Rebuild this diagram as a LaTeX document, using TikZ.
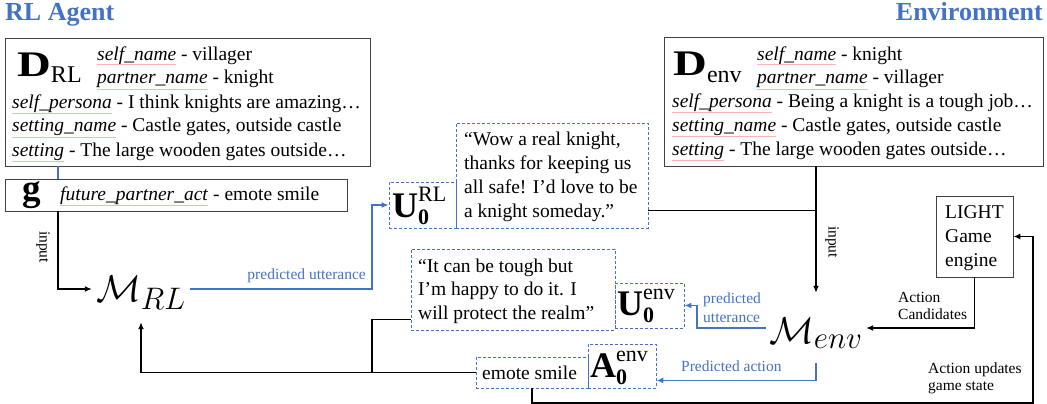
\documentclass[tikz,border=0pt]{standalone}
\usepackage{amsmath}
\usepackage{graphicx}
\usepackage{fontspec}
\setmainfont{Liberation Serif}
\usetikzlibrary{arrows.meta,calc}
\definecolor{myblue}{HTML}{4472C4}
\newlength\sqw
\newcommand\sq[1]{\settowidth\sqw{\textit{#1}}\textit{#1}\llap{\textcolor{red!30}{\rule[-5pt]{\sqw}{0.5pt}}}}
\newcommand\bigsym[3]{{\fontsize{36}{36}\selectfont\textbf{#1}}\raisebox{-7pt}{\fontsize{22}{20}\selectfont\begin{tabular}[b]{@{}l@{}}#2\\[2pt]\textbf{#3}\end{tabular}}}
\newcommand\bigmath[1]{\scalebox{1.5}{\Huge$#1$}}
\begin{document}
\begin{tikzpicture}[x=1pt,y=-1pt,
 box/.style={draw=black!75,line width=0.8pt,inner sep=0pt},
 dbox/.style={draw=myblue,line width=0.9pt,dash pattern=on 3pt off 2pt,inner sep=0pt},
 txt/.style={inner sep=0pt,anchor=base west,font=\fontsize{19.5}{24}\selectfont},
 lab/.style={inner sep=0pt,font=\fontsize{15.5}{17}\selectfont},
 ttl/.style={inner sep=0pt,font=\fontsize{26}{28}\selectfont\bfseries,text=myblue},
 kline/.style={draw=black,line width=1.3pt},
 bline/.style={draw=myblue,line width=1.3pt},
 arrowed/.style={-{Latex[length=7pt,width=6pt]}},
 mth/.style={inner sep=0pt}
]
\useasboundingbox (0,0) rectangle (1047,404);

% titles
\node[ttl,anchor=base west] (tRL) at (5,21) {RL Agent};
\node[ttl,anchor=base east] (tEnv) at (1043,21) {Environment};

% RL dialogue box
\node[box,minimum width=365pt,minimum height=128pt] (drl) at (187.5,102) {};
\node[txt] (drlD) at (17,77) {\fontsize{36}{36}\selectfont\scalebox{1.3}[1]{\textbf{D}}\raisebox{-6pt}{\fontsize{24}{24}\selectfont RL}};
\node[txt] (drlA) at (97,60) {\begin{tabular}[t]{@{}l@{}}\sq{self\_name} - villager\\ \sq{partner\_name} - knight\end{tabular}};
\node[txt] (drlB) at (12,108) {\begin{tabular}[t]{@{}l@{}}\sq{self\_persona} - I think knights are amazing…\\ \sq{setting\_name} - Castle gates, outside castle\\ \sq{setting} - The large wooden gates outside…\end{tabular}};

% goal box
\node[box,minimum width=342pt,minimum height=32pt] (g) at (176,195) {};
\node[txt] (gG) at (22,200) {\fontsize{37}{37}\selectfont\textbf{g}};
\node[txt] (gT) at (60,200) {\sq{future\_partner\_act} - emote smile};

% environment dialogue box
\node[box,minimum width=379pt,minimum height=129pt] (denv) at (853.5,101.5) {};
\node[txt] (denvD) at (673,76) {\fontsize{36}{36}\selectfont\scalebox{1.3}[1]{\textbf{D}}\raisebox{-7pt}{\fontsize{24}{24}\selectfont env}};
\node[txt] (denvA) at (757,60) {\begin{tabular}[t]{@{}l@{}}\sq{self\_name} - knight\\ \sq{partner\_name} - villager\end{tabular}};
\node[txt] (denvB) at (672,107) {\begin{tabular}[t]{@{}l@{}}\sq{self\_persona} - Being a knight is a tough job…\\ \sq{setting\_name} - Castle gates, outside castle\\ \sq{setting} - The large wooden gates outside…\end{tabular}};

% LIGHT game engine
\node[box,minimum width=77pt,minimum height=81pt] (light) at (974.5,236.5) {};
\node[txt] (lightT) at (945,218) {\begin{tabular}[t]{@{}l@{}}LIGHT\\Game\\engine\end{tabular}};

% RL utterance
\node[dbox,minimum width=67pt,minimum height=46pt] (urlbox) at (422.5,205) {};
\node[txt] (urlT) at (392,217) {\bigsym{U}{RL}{0}};
\node[dbox,minimum width=192pt,minimum height=105pt] (q1) at (552,175.5) {};
\node[txt] (q1T) at (464,145) {\begin{tabular}[t]{@{}l@{}}“Wow a real knight,\\thanks for keeping us\\all safe! I’d love to be\\a knight someday.”\end{tabular}};

% env utterance
\node[dbox,minimum width=204pt,minimum height=81pt] (q2) at (513,289.5) {};
\node[txt,font=\fontsize{19.5}{23.5}\selectfont] (q2T) at (418,272) {\begin{tabular}[t]{@{}l@{}}“It can be tough but\\I’m happy to do it. I\\will protect the realm”\end{tabular}};
\node[dbox,minimum width=69pt,minimum height=45pt] (uenv) at (649.5,305.5) {};
\node[txt] (uenvT) at (617,315) {\bigsym{U}{env}{0}};

% env action
\node[dbox,minimum width=112pt,minimum height=31pt] (emote) at (532,372.5) {};
\node[txt] (emoteT) at (482,379) {emote smile};
\node[dbox,minimum width=68pt,minimum height=44pt] (aenv) at (622,366) {};
\node[txt] (aenvT) at (590,377) {\bigsym{A}{env}{0}};

% models
\node[mth,minimum width=98pt,minimum height=66pt,text height=45pt,text depth=21pt] (mrl) at (141,289) {\bigmath{\mathcal{M}_{RL}}};
\node[mth,minimum width=100pt,minimum height=70pt,text height=50pt,text depth=20pt] (menv) at (816,328) {\bigmath{\mathcal{M}_{env}}};

% labels
\node[lab,anchor=base east,text=myblue] (lPU) at (366,279) {predicted utterance};
\node[lab,anchor=base west,text=myblue,font=\fontsize{15.5}{19}\selectfont] (lPU2) at (703,303) {\begin{tabular}[t]{@{}l@{}}predicted\\utterance\end{tabular}};
\node[lab,anchor=base west,text=myblue] (lPA) at (681,371) {Predicted action};
\node[lab,anchor=base west] (lAC) at (898,302) {\begin{tabular}[t]{@{}l@{}}Action\\Candidates\end{tabular}};
\node[lab,anchor=base west] (lAU) at (928,373) {\begin{tabular}[t]{@{}l@{}}Action updates\\game state\end{tabular}};
\node[lab,rotate=-90] (lin1) at (43,247) {input};
\node[lab,rotate=-90] (lin2) at (832,242) {input};

% helper coordinates
\coordinate (gx) at (58,0);
\coordinate (c1) at (372,205);
\coordinate (j1) at (372,0);
\coordinate (c3) at (697,305.5);
\coordinate (c4) at (1033,403);

% connectors
\draw[bline] (drl.south -| gx) -- (g.north -| gx);
\draw[kline,arrowed] (g.south -| gx) |- (mrl.west);
\draw[bline,arrowed] (mrl.east) -| (c1) -- (urlbox.west);
\draw[kline] ($(q1.south east)+(0,-18)$) coordinate (q1o) -- (q1o -| menv.north);
\draw[kline,arrowed] (denv.south -| menv.north) -- (menv.north);
\draw[kline,arrowed] (light.south) |- (menv.east);
\draw[bline,arrowed] (menv.west) -| (c3) -- (uenv.east);
\draw[bline,arrowed] (menv.south) |- ($(aenv.south east)+(0,-8)$);
\draw[kline,arrowed] (emote.west) -| (mrl.south);
\draw[kline] ($(q2.south west)+(0,-11)$) -| (j1 |- emote.west);
\draw[kline,arrowed] (emote.south) |- (c4) |- (light.east);
\end{tikzpicture}
\end{document}
